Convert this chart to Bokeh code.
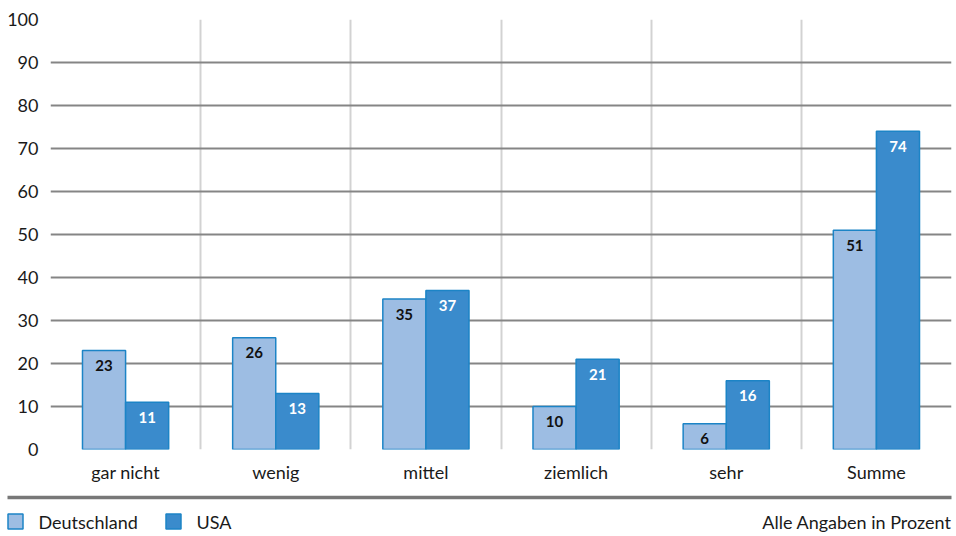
from bokeh.plotting import figure
from bokeh.models import ColumnDataSource, FixedTicker, Range1d
from bokeh.layouts import column
from bokeh.core.properties import value
from bokeh.embed import file_html
from bokeh.resources import INLINE

categories = ["gar nicht", "wenig", "mittel", "ziemlich", "sehr", "Summe"]
deutschland = [23, 26, 35, 10, 6, 51]
usa = [11, 13, 37, 21, 16, 74]
series_names = ["Deutschland", "USA"]
y_ticks = [0, 10, 20, 30, 40, 50, 60, 70, 80, 90, 100]
note = "Alle Angaben in Prozent"

FONT = "Lato"
C_DE = "#9dbde3"
C_US = "#3a8bcc"
C_EDGE = "#1c84c6"
BAR_W = 0.287
W = 956

n = len(categories)
centers = [i + 0.5 for i in range(n)]

p = figure(width=W, height=493, output_backend="svg", toolbar_location=None,
           x_range=Range1d(0, n), y_range=Range1d(0, 100),
           min_border_left=50, min_border_right=5, min_border_top=19, min_border_bottom=44)
p.frame_align = False
p.outline_line_color = None

p.ygrid.ticker = FixedTicker(ticks=y_ticks)
p.ygrid.grid_line_color = "#858585"
p.ygrid.grid_line_width = 2
p.xgrid.ticker = FixedTicker(ticks=list(range(n + 1)))
p.xgrid.grid_line_color = "#d2d2d2"
p.xgrid.grid_line_width = 2

p.yaxis.ticker = FixedTicker(ticks=y_ticks)
p.xaxis.ticker = FixedTicker(ticks=centers)
p.xaxis.major_label_overrides = {c: lab for c, lab in zip(centers, categories)}
for ax in (p.xaxis[0], p.yaxis[0]):
    ax.axis_line_color = None
    ax.major_tick_line_color = None
    ax.minor_tick_line_color = None
    ax.major_tick_out = 0
    ax.major_tick_in = 0
    ax.major_label_text_font = FONT
    ax.major_label_text_font_size = "18px"
    ax.major_label_text_color = "#1a1a1a"
p.yaxis.major_label_standoff = 12
p.xaxis.major_label_standoff = 11

src = ColumnDataSource(dict(
    x_de=[c - BAR_W / 2 for c in centers],
    x_us=[c + BAR_W / 2 for c in centers],
    de=deutschland, us=usa,
    de_lab=[str(v) for v in deutschland], us_lab=[str(v) for v in usa],
))

p.vbar(x="x_de", top="de", bottom=0, width=BAR_W, source=src,
       fill_color=C_DE, line_color=C_EDGE, line_width=1.5)
p.vbar(x="x_us", top="us", bottom=0, width=BAR_W, source=src,
       fill_color=C_US, line_color=C_EDGE, line_width=1.5)

p.text(x="x_de", y="de", text="de_lab", source=src, text_align="center",
       text_baseline="middle", y_offset=15, text_font=value(FONT),
       text_font_style="bold", text_font_size="15px", text_color="#111111")
p.text(x="x_us", y="us", text="us_lab", source=src, text_align="center",
       text_baseline="middle", y_offset=15, text_font=value(FONT),
       text_font_style="bold", text_font_size="15px", text_color="white")

FH = 43
f = figure(width=W, height=FH, output_backend="svg", toolbar_location=None,
           x_range=Range1d(0, W), y_range=Range1d(FH, 0),
           x_axis_type=None, y_axis_type=None, min_border=0)
f.frame_align = False
f.outline_line_color = None
f.xgrid.visible = False
f.ygrid.visible = False
f.segment(x0=[7], y0=[4], x1=[951], y1=[4], line_color="#787878", line_width=3.5)
leg_x = [7, 165]
leg_colors = [C_DE, C_US]
f.rect(x=[lx + 8 for lx in leg_x], y=[28, 28], width=15, height=15,
       fill_color=leg_colors, line_color=C_EDGE, line_width=1.5)
f.text(x=[lx + 31 for lx in leg_x], y=[28, 28], text=series_names,
       text_baseline="middle", text_align="left", text_font=value(FONT),
       text_font_size="18px", text_color="#1a1a1a")
f.text(x=[951], y=[28], text=[note], text_baseline="middle", text_align="right",
       text_font=value(FONT), text_font_size="18px", text_color="#1a1a1a")

layout = column(p, f, spacing=0)
open("out.html", "w").write(file_html(layout, INLINE))
